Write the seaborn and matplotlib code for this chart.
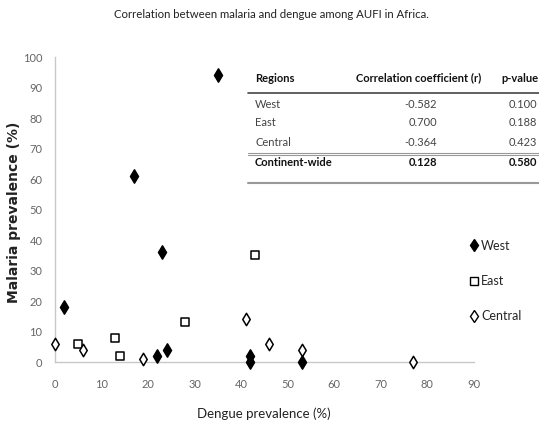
import matplotlib
matplotlib.use("Agg")
import matplotlib.pyplot as plt
import seaborn as sns
import pandas as pd
from matplotlib.lines import Line2D

# ---- data ----
west_x = [35, 17, 23, 2, 22, 24, 42, 42, 53]
west_y = [94, 61, 36, 18, 2, 4, 2, 0, 0]
east_x = [5, 13, 14, 28, 43]
east_y = [6, 8, 2, 13, 35]
central_x = [0, 6, 19, 41, 46, 53, 77]
central_y = [6, 4, 1, 14, 6, 4, 0]

table_regions = ["West", "East", "Central", "Continent-wide"]
table_r = ["-0.582", "0.700", "-0.364", "0.128"]
table_p = ["0.100", "0.188", "0.423", "0.580"]
table_headers = ["Regions", "Correlation coefficient (r)", "p-value"]

x_ticks = [0, 10, 20, 30, 40, 50, 60, 70, 80, 90]
y_ticks = [0, 10, 20, 30, 40, 50, 60, 70, 80, 90, 100]

df = pd.DataFrame({
    "Dengue": west_x + east_x + central_x,
    "Malaria": west_y + east_y + central_y,
    "Region": ["West"] * len(west_x) + ["East"] * len(east_x) + ["Central"] * len(central_x),
})

sns.set_theme(style="white")
plt.rcParams["font.family"] = ["Lato", "DejaVu Sans"]

fig = plt.figure(figsize=(5.39, 4.23), dpi=100)
ax = fig.add_axes([0.102, 0.144, 0.777, 0.721])

styles = {
    "West": dict(marker="d", facecolor="black", s=46),
    "East": dict(marker="s", facecolor="white", s=36),
    "Central": dict(marker="d", facecolor="white", s=40),
}
for reg in ["West", "East", "Central"]:
    sub = df[df["Region"] == reg]
    st = styles[reg]
    sns.scatterplot(data=sub, x="Dengue", y="Malaria", ax=ax, marker=st["marker"],
                    s=st["s"], color=st["facecolor"], edgecolor="black",
                    linewidth=1.1, zorder=3, clip_on=False, legend=False)

ax.set_xlim(0, 90)
ax.set_ylim(0, 100)
ax.set_xticks(x_ticks)
ax.set_yticks(y_ticks)
ax.tick_params(axis="x", length=0, labelsize=8, labelcolor="#666666", pad=12)
ax.tick_params(axis="y", length=0, labelsize=8, labelcolor="#666666", pad=9)
for sp in ["top", "right"]:
    ax.spines[sp].set_visible(False)
for sp in ["left", "bottom"]:
    ax.spines[sp].set_color("#c8c8c8")
    ax.spines[sp].set_linewidth(1.0)

ax.set_xlabel("Dengue prevalence (%)", fontsize=9.5, color="#222222")
ax.xaxis.set_label_coords(0.499, -0.15)
ax.set_ylabel("Malaria prevalence (%)", fontsize=10, fontweight="bold",
              color="#222222", family="DejaVu Sans")
ax.yaxis.set_label_coords(-0.082, 0.49)

fig.text(0.503, 0.965, "Correlation between malaria and dengue among AUFI in Africa.",
         ha="center", va="center", fontsize=8.2, color="#222222")

# legend
handles = [
    Line2D([], [], marker="d", color="none", markerfacecolor="black", markeredgecolor="black", markersize=6.5, label="West"),
    Line2D([], [], marker="s", color="none", markerfacecolor="white", markeredgecolor="black", markersize=6, label="East"),
    Line2D([], [], marker="d", color="none", markerfacecolor="white", markeredgecolor="black", markersize=6, label="Central"),
]
fig.legend(handles=handles, loc="upper left", bbox_to_anchor=(0.859, 0.445),
           frameon=False, fontsize=9, labelspacing=1.85, handletextpad=0.05,
           handlelength=1.0, borderaxespad=0)

# table
W, H = 539.0, 423.0
def fx(px):
    return px / W
def fy(py):
    return 1 - py / H

hdr_y = 78
fs = 8
fig.text(fx(255), fy(hdr_y), table_headers[0], ha="left", va="center", fontsize=fs, fontweight="bold", color="#111111")
fig.text(fx(419), fy(hdr_y), table_headers[1], ha="center", va="center", fontsize=fs, fontweight="bold", color="#111111")
fig.text(fx(539), fy(hdr_y), table_headers[2], ha="right", va="center", fontsize=fs, fontweight="bold", color="#111111")

row_ys = [104, 123, 142, 162]
for i, (reg, r, p) in enumerate(zip(table_regions, table_r, table_p)):
    bold = "bold" if i == 3 else "normal"
    col = "#111111" if i == 3 else "#444444"
    fig.text(fx(255), fy(row_ys[i]), reg, ha="left", va="center", fontsize=fs, fontweight=bold, color=col)
    fig.text(fx(437), fy(row_ys[i]), r, ha="right", va="center", fontsize=fs, fontweight=bold, color=col)
    fig.text(fx(537), fy(row_ys[i]), p, ha="right", va="center", fontsize=fs, fontweight=bold, color=col)

def hline(py, color, lw):
    fig.add_artist(Line2D([fx(248), fx(539)], [fy(py), fy(py)], color=color, lw=lw,
                          transform=fig.transFigure))

hline(93, "#444444", 1.2)
hline(152.5, "#999999", 0.8)
hline(154.5, "#999999", 0.8)
hline(183, "#999999", 1.5)

fig.savefig("out.png", dpi=100)
